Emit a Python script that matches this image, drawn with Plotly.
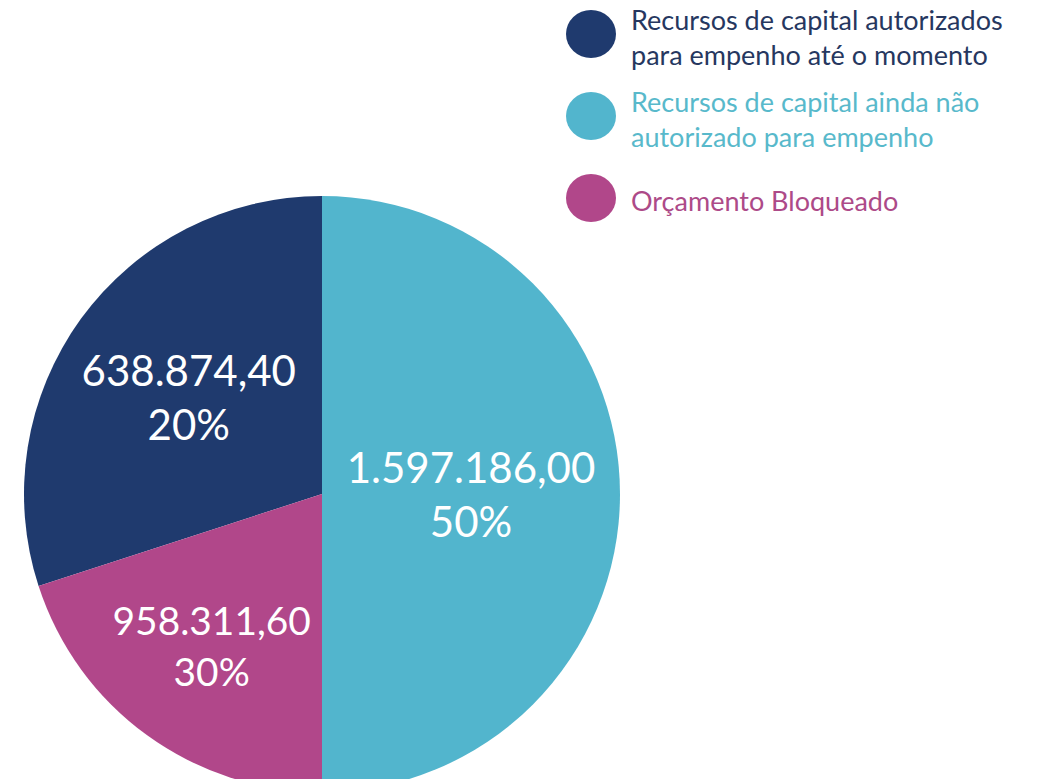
import plotly.graph_objects as go

# Data
labels = [
    "Recursos de capital autorizados<br>para empenho até o momento",
    "Recursos de capital ainda não<br>autorizado para empenho",
    "Orçamento Bloqueado",
]
# amounts and shares printed on the slices
amounts = [638874.40, 1597186.00, 958311.60]
shares = [20, 50, 30]
# slice sizes as drawn in the picture (the picture's dark and magenta
# wedges are swapped relative to their own labels)
slice_sizes = [30, 50, 20]

slice_colors = ["#1f3a6e", "#52b5cd", "#b1478a"]
legend_text_colors = ["#26375f", "#58b9cb", "#ad4a88"]

W, H = 1046, 800  # a bit taller than the window so the pie runs off the bottom


def br_number(v):
    s = f"{v:,.2f}"
    return s.replace(",", "X").replace(".", ",").replace("X", ".")


slice_text = [f"{br_number(a)}<br>{p}%" for a, p in zip(amounts, shares)]

fig = go.Figure(
    go.Pie(
        labels=labels,
        values=slice_sizes,
        text=slice_text,
        sort=False,
        direction="clockwise",
        rotation=-108,
        marker=dict(colors=slice_colors, line=dict(width=0)),
        texttemplate="%{text}",
        textposition="inside",
        insidetextorientation="horizontal",
        textfont=dict(family="Lato", size=42, color="white"),
        hoverinfo="label+text",
        domain=dict(x=[24 / W, 620 / W], y=[(H - 792) / H, (H - 196) / H]),
        showlegend=False,
    )
)

# custom legend: big circles + coloured text
for i, (lab, col, tcol) in enumerate(zip(labels, slice_colors, legend_text_colors)):
    yc_px = 34 + i * 82
    fig.add_shape(
        type="circle",
        xref="paper", yref="paper",
        xsizemode="pixel", ysizemode="pixel",
        xanchor=591 / W, yanchor=1 - yc_px / H,
        x0=-25, x1=25, y0=-24, y1=24,
        fillcolor=col, line=dict(width=0),
    )
    fig.add_annotation(
        x=629 / W, y=1 - (yc_px + 3) / H, xref="paper", yref="paper",
        xanchor="left", yanchor="middle", align="left",
        text=lab, showarrow=False,
        font=dict(family="Lato", size=27, color=tcol),
    )

fig.update_layout(
    width=W, height=H,
    margin=dict(l=0, r=0, t=0, b=0),
    paper_bgcolor="white",
    plot_bgcolor="white",
)

# drop the default page margin so the figure sits at the window's corner
fig.write_html(
    "out.html",
    config={"displayModeBar": False},
    post_script="document.body.style.margin='0';document.body.style.overflow='hidden';",
)
